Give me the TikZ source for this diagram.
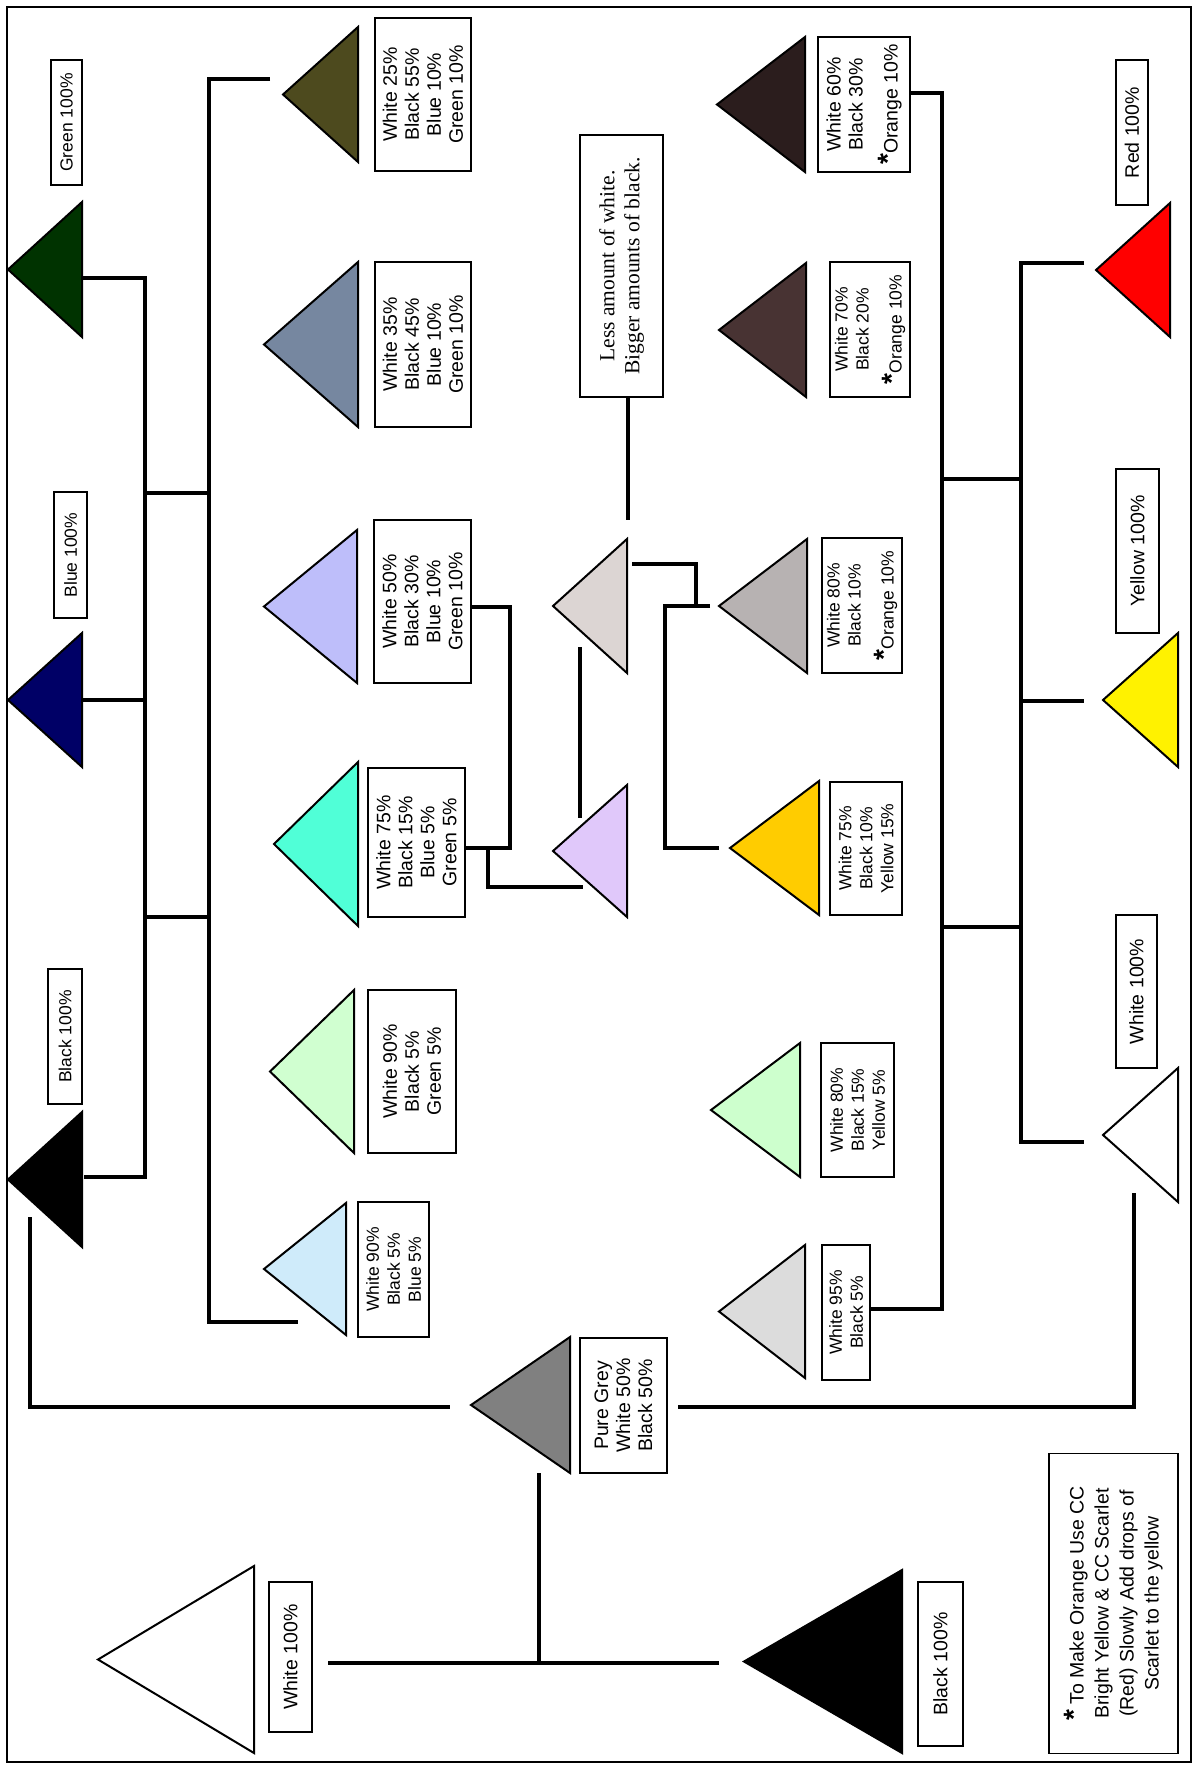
\documentclass[tikz,border=0pt]{standalone}
\usepackage{fontspec}
\setmainfont{Liberation Sans}
\newfontfamily\timesfont{Liberation Serif}

% paint colours
\definecolor{pgreen}{RGB}{0,51,0}
\definecolor{pnavy}{RGB}{0,0,102}
\definecolor{polive}{RGB}{77,74,30}
\definecolor{pslate}{RGB}{118,135,160}
\definecolor{pperi}{RGB}{190,190,250}
\definecolor{paqua}{RGB}{80,255,215}
\definecolor{pmint}{RGB}{208,255,208}
\definecolor{pice}{RGB}{207,235,250}
\definecolor{pgrey}{RGB}{128,128,128}
\definecolor{ptaupe}{RGB}{220,213,211}
\definecolor{plav}{RGB}{224,200,250}
\definecolor{pdkbrown}{RGB}{43,29,29}
\definecolor{pbrown}{RGB}{72,51,51}
\definecolor{pash}{RGB}{183,178,178}
\definecolor{pgold}{RGB}{255,204,0}
\definecolor{pltmint}{RGB}{205,255,205}
\definecolor{psilver}{RGB}{220,220,220}

\newcommand\lblfont{\fontsize{19.5}{22}\selectfont}
\newcommand\lblsmall{\fontsize{17.5}{21}\selectfont}
\newcommand\lessfont{\timesfont\fontsize{21.5}{25}\selectfont}
\newcommand\notefont{\fontsize{19.5}{25}\selectfont}
\newcommand\starmark{{\bfseries\fontsize{28}{28}\selectfont *}}

% name, apex x, centre y, base x, half height, colour
\newcommand\paintri[6]{%
  \coordinate (#1) at (#2,#3);
  \coordinate (#1-m) at (#4,#3);
  \filldraw[tri, fill=#6] (#1) -- (#4,#3-#5) -- (#4,#3+#5) -- cycle;}

% [options] name, centre x, centre y, box width, box height, text
\newcommand\mixlabel[7][]{%
  \node[lbl, #1, minimum width=#6pt, minimum height=#5pt] (#2) at (#3,#4) {#7};}

\begin{document}
\begin{tikzpicture}[x=1pt, y={(0,-1pt)},
    tri/.style={draw=black, line width=2pt},
    link/.style={line width=4.5pt},
    lbl/.style={draw, fill=white, line width=1.8pt, rotate=90, align=center,
                inner sep=0pt, font=\lblfont}]
\useasboundingbox (0,0) rectangle (1197,1769);
\draw[line width=2pt] (7,7) rectangle (1191,1762);

% Triangles
\paintri{green}{8}{269.5}{82}{67.5}{pgreen}
\paintri{navy}{8}{700}{82}{67}{pnavy}
\paintri{black1}{8}{1179.5}{82}{67.5}{black}
\paintri{olive}{283}{94.5}{358}{67.5}{polive}
\paintri{slate}{264}{344.5}{358}{82.5}{pslate}
\paintri{peri}{264}{606.5}{357}{76.5}{pperi}
\paintri{aqua}{274}{844}{358}{82}{paqua}
\paintri{mint}{270}{1071.5}{354}{81.5}{pmint}
\paintri{ice}{264}{1269}{346}{66}{pice}
\paintri{grey}{471}{1405}{570}{68}{pgrey}
\paintri{white}{98}{1659.5}{254}{93.5}{white}
\paintri{black}{744}{1661.5}{902}{91.5}{black}
\paintri{taupe}{553}{606}{627}{67}{ptaupe}
\paintri{lav}{553}{851}{627}{66}{plav}
\paintri{dkbrown}{717}{104.5}{805}{67.5}{pdkbrown}
\paintri{brown}{719}{330}{806}{67}{pbrown}
\paintri{ash}{719}{606}{807}{67}{pash}
\paintri{gold}{730}{848}{819}{67}{pgold}
\paintri{ltmint}{711}{1110}{800}{67}{pltmint}
\paintri{silver}{719}{1311.5}{805}{66.5}{psilver}
\paintri{red}{1096}{270}{1170}{67}{red}
\paintri{yellow}{1103}{700}{1178}{67}{yellow}
\paintri{white3}{1103}{1135}{1178}{67}{white}

% Junctions and free ends of the connectors
\coordinate (green-in) at (82,278);
\coordinate (jA) at (145,1177);
\coordinate (black1-in) at (84,1177);
\coordinate (bar1) at (145,493);
\coordinate (bar2) at (145,917);
\coordinate (olive-in) at (270,79);
\coordinate (jB) at (209,1322);
\coordinate (ice-in) at (298,1322);
\coordinate (black1-out) at (30,1217);
\coordinate (grey-in) at (450,1407);
\coordinate (grey-out) at (678,1407);
\coordinate (white3-out) at (1134,1193);
\coordinate (grey-down) at (539,1473);
\coordinate (white-in) at (328,1663);
\coordinate (black-in) at (719,1663);
\coordinate (peri-out) at (472,607);
\coordinate (jC) at (510,848);
\coordinate (aqua-out) at (466,848);
\coordinate (jD) at (488,848);
\coordinate (lav-in) at (583,887);
\coordinate (taupe-low) at (580,647);
\coordinate (lav-up) at (580,818);
\coordinate (taupe-top) at (628,520);
\coordinate (taupe-out) at (632,564);
\coordinate (jE) at (696,606);
\coordinate (ash-in) at (710,606);
\coordinate (jF) at (665,606);
\coordinate (gold-in) at (719,848);
\coordinate (dkbrown-out) at (910,93);
\coordinate (jG) at (942,1309);
\coordinate (silver-out) at (870,1309);
\coordinate (red-in) at (1084,263);
\coordinate (jH) at (1021,1142);
\coordinate (white3-in) at (1084,1142);
\coordinate (bar3) at (942,479);
\coordinate (bar4) at (942,927);
\coordinate (yellow-in) at (1084,701);

% Connectors
\draw[link] (green-in) -| (jA) -- (black1-in);
\draw[link] (navy-m) -- (navy-m -| jA);
\draw[link] (bar1) -- (bar1 -| jB);
\draw[link] (bar2) -- (bar2 -| jB);
\draw[link] (olive-in) -| (jB) -- (ice-in);
\draw[link] (black1-out) |- (grey-in);
\draw[link] (grey-out) -| (white3-out);
\draw[link] (grey-down) -- (grey-down |- white-in);
\draw[link] (white-in) -- (black-in);
\draw[link] (peri-out) -| (jC) -- (aqua-out);
\draw[link] (jD) |- (lav-in);
\draw[link, line width=3.5pt] (taupe-low) -- (lav-up);
\draw[link] (taupe-out) -| (jE);
\draw[link] (ash-in) -- (jF) |- (gold-in);
\draw[link] (dkbrown-out) -| (jG) -- (silver-out);
\draw[link] (red-in) -| (jH) -- (white3-in);
\draw[link] (bar3) -- (bar3 -| jH);
\draw[link] (bar4) -- (bar4 -| jH);
\draw[link] (yellow-in -| jH) -- (yellow-in);

% Labels
\mixlabel[font=\lblsmall]{greenlbl}{66.5}{122.5}{31}{125}{Green 100\%}
\mixlabel[font=\lblsmall]{navylbl}{70.5}{555}{33}{126}{Blue 100\%}
\mixlabel[font=\lblsmall]{black1lbl}{65}{1036.5}{34}{135}{Black 100\%}
\mixlabel{olivelbl}{423}{94.5}{96}{153}{White 25\%\\Black 55\%\\Blue 10\%\\Green 10\%}
\mixlabel{slatelbl}{423}{344.5}{96}{165}{White 35\%\\Black 45\%\\Blue 10\%\\Green 10\%}
\mixlabel{perilbl}{422.5}{601.5}{97}{163}{White 50\%\\Black 30\%\\Blue 10\%\\Green 10\%}
\mixlabel{aqualbl}{416.5}{842.5}{97}{149}{White 75\%\\Black 15\%\\Blue 5\%\\Green 5\%}
\mixlabel{mintlbl}{412}{1071.5}{88}{163}{White 90\%\\Black 5\%\\Green 5\%}
\mixlabel[font=\lblsmall]{icelbl}{393.5}{1269.5}{71}{135}{White 90\%\\Black 5\%\\Blue 5\%}
\mixlabel{greylbl}{623.5}{1405.5}{87}{135}{Pure Grey\\White 50\%\\Black 50\%}
\mixlabel[font=\lessfont]{lessbox}{621.5}{266}{83}{262}{Less amount of white.\\Bigger amounts of black.}
\mixlabel{dkbrownlbl}{864}{104.5}{92}{135}{White 60\%\\Black 30\%\\[13pt]\starmark Orange 10\%}
\mixlabel[font=\lblsmall]{brownlbl}{870}{329.5}{80}{135}{White 70\%\\Black 20\%\\[12pt]\starmark Orange 10\%}
\mixlabel[font=\lblsmall]{ashlbl}{862}{605.5}{80}{135}{White 80\%\\Black 10\%\\[12pt]\starmark Orange 10\%}
\mixlabel[font=\lblsmall]{goldlbl}{866}{848.5}{72}{133}{White 75\%\\Black 10\%\\Yellow 15\%}
\mixlabel[font=\lblsmall]{ltmintlbl}{857.5}{1110}{73}{134}{White 80\%\\Black 15\%\\Yellow 5\%}
\mixlabel[font=\lblsmall]{silverlbl}{846}{1312.5}{48}{135}{White 95\%\\Black 5\%}
\mixlabel{redlbl}{1132}{132.5}{32}{145}{Red 100\%}
\mixlabel{yellowlbl}{1137.5}{551}{43}{164}{Yellow 100\%}
\mixlabel{white3lbl}{1136.5}{991.5}{41}{153}{White 100\%}
\mixlabel{whitelbl}{290.5}{1657}{43}{150}{White 100\%}
\mixlabel{blacklbl}{940.5}{1664}{45}{164}{Black 100\%}
\mixlabel[font=\notefont]{notebox}{1113.5}{1603.5}{129}{300}{\starmark{} To Make Orange Use CC\\Bright Yellow \& CC Scarlet\\(Red) Slowly Add drops of\\Scarlet to the yellow}

% Less box to the taupe mix
\draw[link] (lessbox.west -| taupe-top) -- (taupe-top);
\end{tikzpicture}
\end{document}
